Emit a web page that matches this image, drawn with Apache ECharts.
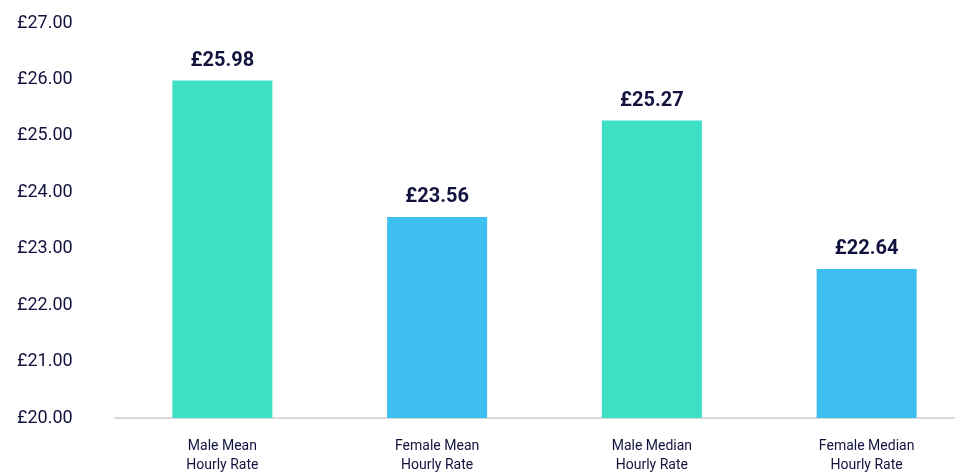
<!DOCTYPE html>
<html>
<head>
<meta charset="utf-8">
<script src="https://cdnjs.cloudflare.com/ajax/libs/echarts/6.0.0/echarts.min.js"></script>
<style>
  html, body { margin: 0; padding: 0; background: #fff; overflow: hidden; }
  #chart { width: 975px; height: 475px; }
</style>
</head>
<body>
<div id="chart"></div>
<script>
  var categories = ['Male Mean\nHourly Rate', 'Female Mean\nHourly Rate', 'Male Median\nHourly Rate', 'Female Median\nHourly Rate'];
  var hourlyRates = [25.98, 23.56, 25.27, 22.64];
  var barColors = ['#3ddfc5', '#3dbfef', '#3ddfc5', '#3dbfef'];

  var TEXT = '#12123f';
  var FONT = 'Roboto, "Noto Sans", sans-serif';

  var chart = echarts.init(document.getElementById('chart'), null, { renderer: 'canvas' });
  chart.setOption({
    animation: false,
    backgroundColor: '#ffffff',
    grid: { left: 115, right: 1, top: 23, bottom: 54, containLabel: false },
    xAxis: {
      type: 'category',
      data: categories,
      axisLine: { lineStyle: { color: '#d9d9d9', width: 2 } },
      axisTick: { show: false },
      axisLabel: { color: TEXT, fontSize: 14, fontFamily: FONT, lineHeight: 19, margin: 19 }
    },
    yAxis: {
      type: 'value',
      min: 20,
      max: 27,
      interval: 1,
      axisLine: { show: false },
      axisTick: { show: false },
      splitLine: { show: false },
      axisLabel: {
        color: TEXT,
        fontSize: 18,
        fontFamily: FONT,
        align: 'left',
        margin: 98,
        formatter: function (v) { return '£' + v.toFixed(2); }
      }
    },
    series: [{
      type: 'bar',
      barWidth: 100,
      data: hourlyRates.map(function (v, i) {
        return { value: v, itemStyle: { color: barColors[i] } };
      }),
      label: {
        show: true,
        position: 'top',
        distance: 10,
        color: TEXT,
        fontSize: 20,
        fontWeight: 'bold',
        fontFamily: FONT,
        formatter: function (p) { return '£' + p.value.toFixed(2); }
      }
    }]
  });
</script>
</body>
</html>
